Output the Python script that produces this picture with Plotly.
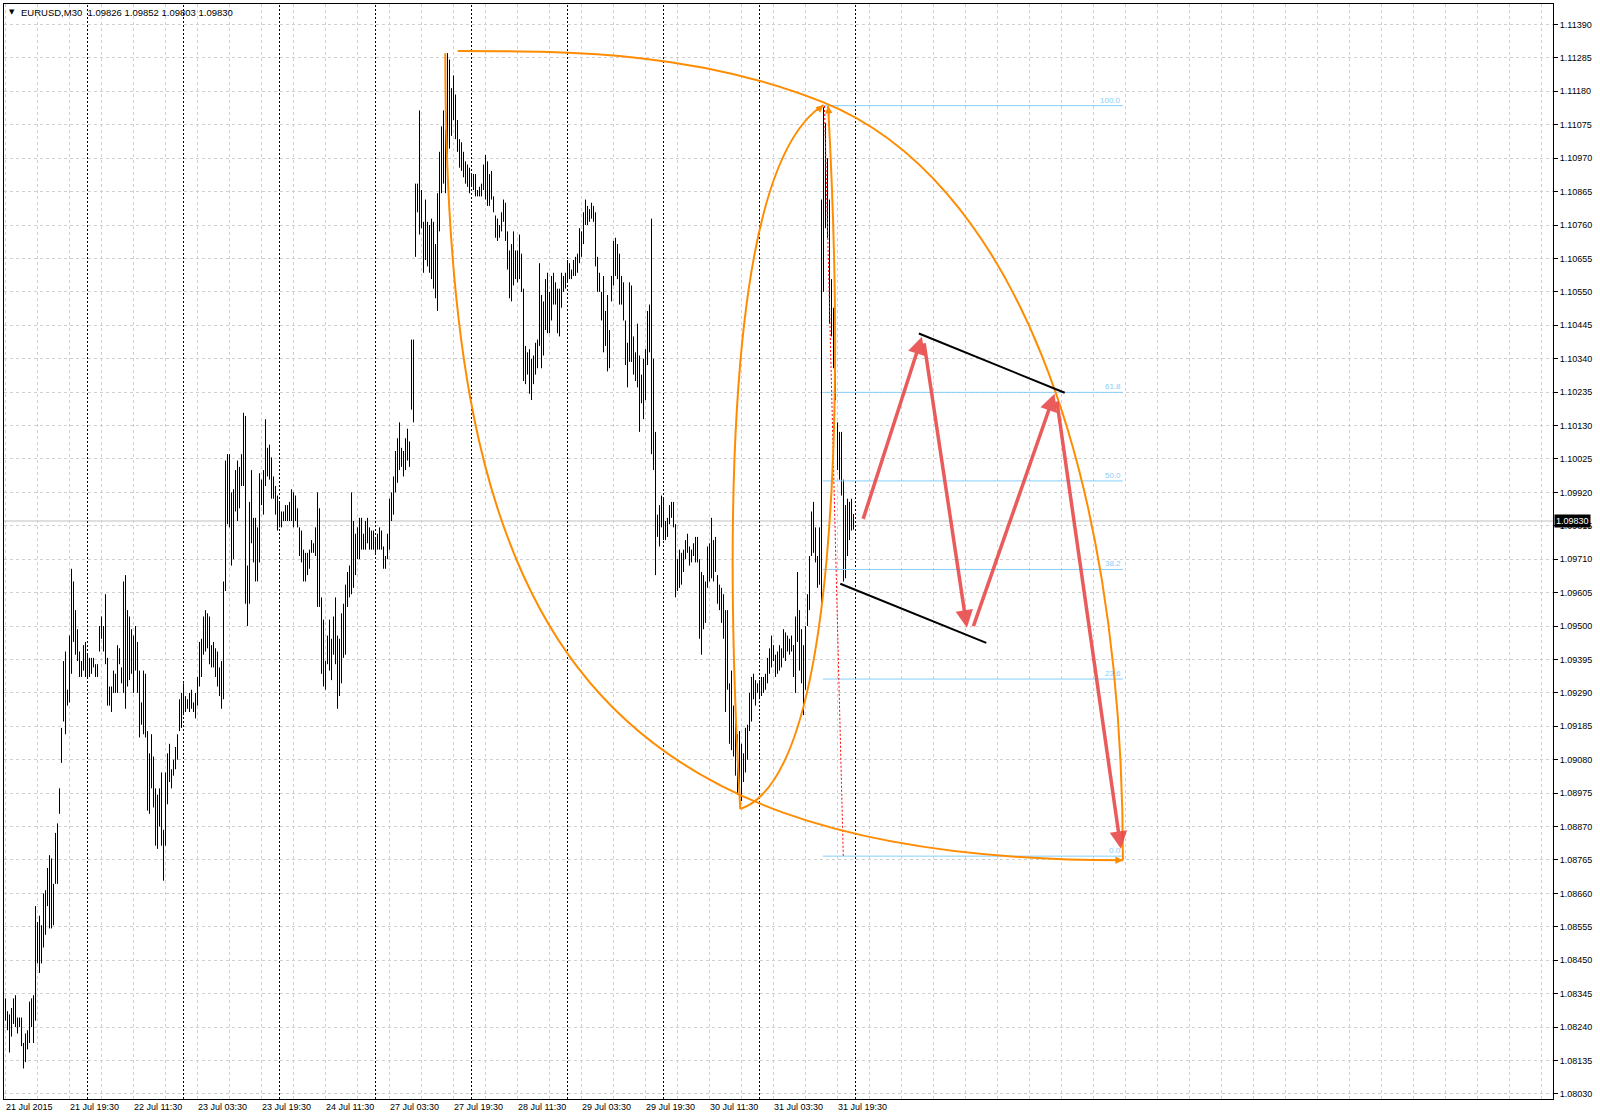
import plotly.graph_objects as go

# EURUSD M30 bars, 21 Jul 2015 03:30 .. 31 Jul 2015 23:30 (one entry per bar)
highs = [
    1.0833, 1.0829, 1.0828, 1.0830, 1.0833, 1.0834, 1.0827, 1.0827, 1.0827, 1.0819,
    1.0822, 1.0823, 1.0832, 1.0833, 1.0834, 1.0862, 1.0857, 1.0859, 1.0856, 1.0866,
    1.0867, 1.0874, 1.0878, 1.0877, 1.0869, 1.0885, 1.0888, 1.0899, 1.0918, 1.0939,
    1.0942, 1.0930, 1.0947, 1.0968, 1.0964, 1.0955, 1.0949, 1.0942, 1.0939, 1.0944,
    1.0945, 1.0941, 1.0940, 1.0940, 1.0940, 1.0938, 1.0938, 1.0950, 1.0953, 1.0950,
    1.0960, 1.0940, 1.0931, 1.0931,
    1.0936, 1.0935, 1.0944, 1.0943, 1.0937, 1.0964, 1.0966, 1.0955, 1.0953, 1.0949,
    1.0947, 1.0950, 1.0945, 1.0936, 1.0926, 1.0936, 1.0935, 1.0917, 1.0910, 1.0916,
    1.0909, 1.0899, 1.0897, 1.0899, 1.0904, 1.0886, 1.0904, 1.0910, 1.0913, 1.0905,
    1.0908, 1.0912, 1.0916, 1.0927, 1.0929, 1.0932, 1.0928, 1.0927, 1.0929, 1.0930,
    1.0926, 1.0929, 1.0934, 1.0945, 1.0946, 1.0953, 1.0955, 1.0954, 1.0953, 1.0944,
    1.0945, 1.0943, 1.0942,
    1.0937, 1.0939, 1.0964, 1.1002, 1.1004, 1.1004, 1.0992, 1.0993, 1.0999, 1.1002,
    1.1000, 1.1004, 1.1017, 1.1016, 1.0969, 1.0989, 1.0999, 1.0984, 1.0984, 1.0981,
    1.0998, 1.0996, 1.0999, 1.1015, 1.1006, 1.1007, 1.1003, 1.0997, 1.0994, 1.0991,
    1.0989, 1.0986, 1.0986, 1.0988, 1.0988, 1.0989, 1.0993, 1.0992, 1.0991, 1.0987,
    1.0981, 1.0980, 1.0974, 1.0973, 1.0973, 1.0974, 1.0977, 1.0976, 1.0981, 1.0992,
    1.0987, 1.0959, 1.0952,
    1.0939, 1.0947, 1.0952, 1.0946, 1.0953, 1.0959, 1.0947, 1.0946, 1.0954, 1.0957,
    1.0963, 1.0967, 1.0969, 1.0992, 1.0983, 1.0979, 1.0981, 1.0984, 1.0984, 1.0979,
    1.0983, 1.0984, 1.0981, 1.0980, 1.0980, 1.0978, 1.0979, 1.0981, 1.0980, 1.0975,
    1.0972, 1.0979, 1.0990, 1.0992, 1.0997, 1.1005, 1.1009, 1.1014, 1.1006, 1.1005,
    1.1009, 1.1012, 1.1008, 1.1040, 1.1040, 1.1089, 1.1089, 1.1112, 1.1087, 1.1077,
    1.1084, 1.1077, 1.1076,
    1.1078, 1.1077, 1.1070, 1.1086, 1.1099, 1.1107, 1.1112, 1.1106, 1.1130, 1.1128,
    1.1119, 1.1123, 1.1117, 1.1109, 1.1103, 1.1102, 1.1099, 1.1096, 1.1095, 1.1094,
    1.1092, 1.1092, 1.1092, 1.1087, 1.1088, 1.1089, 1.1095, 1.1098, 1.1096, 1.1092,
    1.1093, 1.1085, 1.1079, 1.1078, 1.1076, 1.1080, 1.1084, 1.1083, 1.1074, 1.1068,
    1.1070, 1.1074, 1.1068, 1.1068, 1.1073, 1.1067, 1.1056, 1.1038, 1.1036, 1.1037,
    1.1034, 1.1035, 1.1039,
    1.1040, 1.1064, 1.1054, 1.1052, 1.1059, 1.1061, 1.1055, 1.1060, 1.1061, 1.1058,
    1.1056, 1.1056, 1.1061, 1.1060, 1.1061, 1.1065, 1.1064, 1.1062, 1.1065, 1.1066,
    1.1067, 1.1075, 1.1074, 1.1080, 1.1084, 1.1082, 1.1081, 1.1083, 1.1082, 1.1080,
    1.1066, 1.1061, 1.1055, 1.1060, 1.1049, 1.1054, 1.1043, 1.1060, 1.1071, 1.1072,
    1.1070, 1.1067, 1.1060, 1.1058, 1.1046, 1.1039, 1.1058, 1.1057, 1.1041, 1.1036,
    1.1045, 1.1035, 1.1029,
    1.1034, 1.1037, 1.1049, 1.1051, 1.1078, 1.1034, 1.1011, 1.0985, 1.0988, 1.0991,
    1.0990, 1.0983, 1.0984, 1.0988, 1.0989, 1.0989, 1.0982, 1.0971, 1.0974, 1.0973,
    1.0974, 1.0977, 1.0979, 1.0975, 1.0974, 1.0976, 1.0978, 1.0978, 1.0971, 1.0967,
    1.0966, 1.0964, 1.0975, 1.0976, 1.0984, 1.0977, 1.0978, 1.0966, 1.0963, 1.0962,
    1.0960, 1.0955, 1.0955, 1.0932, 1.0936, 1.0925, 1.0929, 1.0916, 1.0917, 1.0913,
    1.0910, 1.0918, 1.0919,
    1.0929, 1.0934, 1.0935, 1.0933, 1.0932, 1.0933, 1.0934, 1.0934, 1.0935, 1.0940,
    1.0943, 1.0947, 1.0944, 1.0941, 1.0942, 1.0944, 1.0943, 1.0949, 1.0948, 1.0947,
    1.0946, 1.0947, 1.0944, 1.0953, 1.0967, 1.0955, 1.0949, 1.0944, 1.0950, 1.0960,
    1.0972, 1.0986, 1.0989, 1.0981, 1.0972, 1.0981, 1.1084, 1.1113, 1.1108, 1.1097,
    1.1084, 1.1059, 1.1050, 1.1038, 1.1014, 1.1011, 1.1011, 1.0996, 1.0988, 1.0990,
    1.0989, 1.0990, 1.09852,
]

lows = [
    1.0826, 1.0823, 1.0816, 1.0821, 1.0825, 1.0824, 1.0822, 1.0824, 1.0818, 1.0811,
    1.0813, 1.0817, 1.0819, 1.0824, 1.0819, 1.0826, 1.0844, 1.0841, 1.0844, 1.0849,
    1.0853, 1.0862, 1.0855, 1.0855, 1.0856, 1.0869, 1.0869, 1.0891, 1.0907, 1.0920,
    1.0916, 1.0925, 1.0926, 1.0935, 1.0945, 1.0941, 1.0939, 1.0934, 1.0934, 1.0936,
    1.0934, 1.0934, 1.0934, 1.0935, 1.0937, 1.0934, 1.0934, 1.0942, 1.0946, 1.0942,
    1.0938, 1.0925, 1.0925, 1.0923,
    1.0929, 1.0929, 1.0929, 1.0938, 1.0932, 1.0929, 1.0924, 1.0931, 1.0933, 1.0935,
    1.0929, 1.0936, 1.0929, 1.0915, 1.0919, 1.0916, 1.0915, 1.0892, 1.0891, 1.0899,
    1.0893, 1.0881, 1.0880, 1.0887, 1.0881, 1.0870, 1.0881, 1.0894, 1.0901, 1.0899,
    1.0903, 1.0905, 1.0908, 1.0917, 1.0918, 1.0922, 1.0923, 1.0924, 1.0923, 1.0924,
    1.0923, 1.0921, 1.0925, 1.0931, 1.0934, 1.0941, 1.0942, 1.0943, 1.0938, 1.0937,
    1.0937, 1.0934, 1.0931,
    1.0928, 1.0924, 1.0927, 1.0961, 1.0982, 1.0981, 1.0969, 1.0971, 1.0986, 1.0983,
    1.0987, 1.0994, 1.0994, 1.0957, 1.0950, 1.0957, 1.0976, 1.0970, 1.0964, 1.0964,
    1.0970, 1.0988, 1.0985, 1.0994, 1.0997, 1.0996, 1.0990, 1.0990, 1.0985, 1.0980,
    1.0981, 1.0981, 1.0983, 1.0983, 1.0983, 1.0983, 1.0983, 1.0981, 1.0983, 1.0981,
    1.0972, 1.0970, 1.0964, 1.0964, 1.0966, 1.0968, 1.0973, 1.0973, 1.0972, 1.0956,
    1.0956, 1.0935, 1.0931,
    1.0930, 1.0938, 1.0936, 1.0933, 1.0941, 1.0938, 1.0924, 1.0928, 1.0932, 1.0940,
    1.0941, 1.0956, 1.0959, 1.0960, 1.0962, 1.0966, 1.0971, 1.0971, 1.0974, 1.0974,
    1.0974, 1.0976, 1.0974, 1.0974, 1.0974, 1.0973, 1.0974, 1.0974, 1.0974, 1.0968,
    1.0968, 1.0971, 1.0974, 1.0983, 1.0985, 1.0992, 1.0995, 1.0999, 1.1000, 1.0997,
    1.0999, 1.1002, 1.1000, 1.1018, 1.1014, 1.1066, 1.1080, 1.1073, 1.1075, 1.1061,
    1.1065, 1.1063, 1.1061,
    1.1059, 1.1056, 1.1053, 1.1049, 1.1074, 1.1086, 1.1089, 1.1086, 1.1091, 1.1100,
    1.1104, 1.1109, 1.1103, 1.1099, 1.1094, 1.1093, 1.1091, 1.1089, 1.1088, 1.1086,
    1.1088, 1.1087, 1.1085, 1.1085, 1.1085, 1.1085, 1.1087, 1.1084, 1.1082, 1.1082,
    1.1084, 1.1080, 1.1072, 1.1071, 1.1072, 1.1074, 1.1077, 1.1071, 1.1062, 1.1053,
    1.1052, 1.1057, 1.1059, 1.1058, 1.1059, 1.1055, 1.1027, 1.1026, 1.1029, 1.1023,
    1.1021, 1.1026, 1.1029,
    1.1031, 1.1038, 1.1031, 1.1035, 1.1043, 1.1042, 1.1042, 1.1046, 1.1051, 1.1051,
    1.1042, 1.1041, 1.1050, 1.1055, 1.1056, 1.1058, 1.1059, 1.1059, 1.1060, 1.1060,
    1.1061, 1.1064, 1.1066, 1.1070, 1.1076, 1.1076, 1.1077, 1.1078, 1.1077, 1.1063,
    1.1055, 1.1055, 1.1046, 1.1036, 1.1038, 1.1030, 1.1031, 1.1052, 1.1057, 1.1060,
    1.1059, 1.1051, 1.1051, 1.1046, 1.1032, 1.1025, 1.1033, 1.1033, 1.1029, 1.1027,
    1.1025, 1.1011, 1.1020,
    1.1015, 1.1021, 1.1032, 1.1036, 1.1004, 1.0999, 1.0966, 1.0978, 1.0975, 1.0981,
    1.0977, 1.0977, 1.0978, 1.0982, 1.0984, 1.0981, 1.0959, 1.0961, 1.0962, 1.0963,
    1.0967, 1.0971, 1.0973, 1.0969, 1.0970, 1.0972, 1.0970, 1.0970, 1.0946, 1.0941,
    1.0949, 1.0951, 1.0962, 1.0964, 1.0965, 1.0964, 1.0967, 1.0957, 1.0955, 1.0951,
    1.0946, 1.0923, 1.0930, 1.0913, 1.0911, 1.0909, 1.0903, 1.0897, 1.0899, 1.0895,
    1.0901, 1.0904, 1.0908,
    1.0917, 1.0920, 1.0927, 1.0925, 1.0929, 1.0927, 1.0928, 1.0929, 1.0930, 1.0932,
    1.0935, 1.0937, 1.0939, 1.0934, 1.0935, 1.0936, 1.0937, 1.0940, 1.0939, 1.0942,
    1.0941, 1.0942, 1.0934, 1.0929, 1.0945, 1.0936, 1.0932, 1.0922, 1.0930, 1.0950,
    1.0955, 1.0972, 1.0973, 1.0970, 1.0962, 1.0963, 1.0955, 1.1055, 1.1075, 1.1072,
    1.1045, 1.1041, 1.1031, 1.1021, 1.0999, 1.0996, 1.0991, 1.0964, 1.0965, 1.0972,
    1.0977, 1.0980, 1.09803,
]

last_ohlc = ["1.09826", "1.09852", "1.09803", "1.09830"]
bid_price = 1.09830

# time axis (bar numbers)
date_label_bars = [0, 32, 64, 96, 128, 160, 192, 224, 256, 288, 320, 352, 384, 416]
date_labels = ["21 Jul 2015", "21 Jul 19:30", "22 Jul 11:30", "23 Jul 03:30",
               "23 Jul 19:30", "24 Jul 11:30", "27 Jul 03:30", "27 Jul 19:30",
               "28 Jul 11:30", "29 Jul 03:30", "29 Jul 19:30", "30 Jul 11:30",
               "31 Jul 03:30", "31 Jul 19:30"]
day_separator_bars = [41, 89, 137, 185, 233, 281, 329, 377, 425]
grid_bars = list(range(0, 775, 16))

price_ticks = [1.08030, 1.08135, 1.08240, 1.08345, 1.08450, 1.08555, 1.08660,
               1.08765, 1.08870, 1.08975, 1.09080, 1.09185, 1.09290, 1.09395,
               1.09500, 1.09605, 1.09710, 1.09815, 1.09920, 1.10025, 1.10130,
               1.10235, 1.10340, 1.10445, 1.10550, 1.10655, 1.10760, 1.10865,
               1.10970, 1.11075, 1.11180, 1.11285, 1.11390]

# Fibonacci retracement
fib_high = 1.11135
fib_low = 1.08777
fib_levels = [100.0, 61.8, 50.0, 38.2, 23.6, 0.0]
fib_span = [408.7, 558.7]
fib_trend = [(409.5, 1.11134), (418.9, 1.08774)]

# orange curves: cubic bezier control points (bar, price)
# big upper arc = two joined segments
outer_upper_arc = [(226.1, 1.11307), (287.3, 1.11307), (347.5, 1.11300), (408.7, 1.11146),
                   (500.6, 1.10916), (558.7, 1.10047), (558.7, 1.08764)]
outer_lower_arc = [(219.9, 1.11300), (219.9, 1.09537), (283.2, 1.08764), (558.7, 1.08764)]
inner_left_arc = [(409.0, 1.11137), (354.6, 1.10922), (361.8, 1.09543), (367.4, 1.08925)]
inner_right_arc = [(411.3, 1.11134), (419.5, 1.10185), (415.9, 1.09030), (367.4, 1.08925)]

# red wave arrows (tail, head) and black channel lines
wave_arrows = [((428.6, 1.09832), (458.2, 1.10409)),
               ((459.2, 1.10393), (480.7, 1.09495)),
               ((483.7, 1.09495), (524.5, 1.10230)),
               ((525.6, 1.10210), (557.7, 1.08800))]
channel_lines = [((456.7, 1.10419), (529.6, 1.10233)),
                 ((417.4, 1.09633), (490.4, 1.09447))]

ORANGE = "#ff8c00"
FIB_BLUE = "#87cefa"
FONT = "Liberation Sans"

fig = go.Figure()

# bars as high-low sticks
bx, by = [], []
for i, (h, l) in enumerate(zip(highs, lows)):
    bx += [i, i, None]
    by += [l, h, None]
fig.add_trace(go.Scatter(x=bx, y=by, mode="lines", line=dict(color="black", width=1),
                         hoverinfo="skip", showlegend=False))

shapes = []

# bid line
shapes.append(dict(type="line", xref="paper", x0=0, x1=1, yref="y", y0=bid_price, y1=bid_price,
                   line=dict(color="#c0c0c0", width=1), layer="below"))

# day separators
for b in day_separator_bars:
    shapes.append(dict(type="line", xref="x", x0=b, x1=b, yref="paper", y0=0, y1=1,
                       line=dict(color="black", width=1, dash="2px,2px")))

# fibonacci levels
for lvl in fib_levels:
    p = fib_low + (fib_high - fib_low) * lvl / 100
    shapes.append(dict(type="line", xref="x", yref="y", x0=fib_span[0], x1=fib_span[1], y0=p, y1=p,
                       line=dict(color=FIB_BLUE, width=1)))
shapes.append(dict(type="line", xref="x", yref="y",
                   x0=fib_trend[0][0], y0=fib_trend[0][1], x1=fib_trend[1][0], y1=fib_trend[1][1],
                   line=dict(color="red", width=1, dash="2px,2px")))


def bezier_path(pts):
    path = f"M {pts[0][0]},{pts[0][1]}"
    for k in range(1, len(pts), 3):
        (x1, y1), (x2, y2), (x3, y3) = pts[k:k + 3]
        path += f" C {x1},{y1} {x2},{y2} {x3},{y3}"
    return path


for arc in [outer_upper_arc, outer_lower_arc, inner_left_arc, inner_right_arc]:
    shapes.append(dict(type="path", xref="x", yref="y", path=bezier_path(arc),
                       line=dict(color=ORANGE, width=2)))

for (x0, y0), (x1, y1) in channel_lines:
    shapes.append(dict(type="line", xref="x", yref="y", x0=x0, y0=y0, x1=x1, y1=y1,
                       line=dict(color="black", width=2)))

annotations = []

for (tx, ty), (hx, hy) in wave_arrows:
    annotations.append(dict(x=hx, y=hy, ax=tx, ay=ty, xref="x", yref="y", axref="x", ayref="y",
                            text="", showarrow=True, arrowhead=2, arrowsize=1, arrowwidth=3.5,
                            arrowcolor="rgba(232,70,70,0.88)"))

# small orange arrowheads at the curve ends
annotations.append(dict(x=inner_left_arc[0][0], y=inner_left_arc[0][1], xref="x", yref="y",
                        ax=-8, ay=7, text="", showarrow=True, arrowhead=2, arrowsize=1,
                        arrowwidth=1.5, arrowcolor=ORANGE))
annotations.append(dict(x=inner_right_arc[0][0], y=inner_right_arc[0][1], xref="x", yref="y",
                        ax=1, ay=11, text="", showarrow=True, arrowhead=2, arrowsize=1,
                        arrowwidth=1.5, arrowcolor=ORANGE))
annotations.append(dict(x=outer_upper_arc[-1][0], y=outer_upper_arc[-1][1], xref="x", yref="y",
                        ax=-12, ay=0, text="", showarrow=True, arrowhead=2, arrowsize=1,
                        arrowwidth=1.5, arrowcolor=ORANGE))

# fibonacci level labels
for lvl in fib_levels:
    p = fib_low + (fib_high - fib_low) * lvl / 100
    annotations.append(dict(x=fib_span[1], y=p, xref="x", yref="y", text=f"{lvl:.1f}",
                            showarrow=False, xanchor="right", yanchor="bottom", yshift=-1,
                            font=dict(family=FONT, size=8, color=FIB_BLUE)))

# date labels under the chart
for b, t in zip(date_label_bars, date_labels):
    annotations.append(dict(x=b, y=0, xref="x", yref="paper", text=t, showarrow=False,
                            xanchor="left", yanchor="top", xshift=-2, yshift=-1,
                            font=dict(family=FONT, size=9, color="black")))

# header
annotations.append(dict(x=0, y=1, xref="paper", yref="paper", text="▼", showarrow=False,
                        xanchor="left", yanchor="top", xshift=3, yshift=-2,
                        font=dict(family="DejaVu Sans", size=7, color="black")))
annotations.append(dict(x=0, y=1, xref="paper", yref="paper",
                        text="EURUSD,M30  " + " ".join(last_ohlc), showarrow=False,
                        xanchor="left", yanchor="top", xshift=15, yshift=-1,
                        font=dict(family=FONT, size=9.5, color="black")))

# current price box on the axis
annotations.append(dict(x=1, y=bid_price, xref="paper", yref="y", text=last_ohlc[3],
                        showarrow=False, xanchor="left", yanchor="middle", xshift=1,
                        bgcolor="black", borderpad=1,
                        font=dict(family=FONT, size=9, color="white")))

fig.update_layout(
    width=1600, height=1118,
    margin=dict(l=4, r=47, t=4, b=19, pad=0),
    paper_bgcolor="white", plot_bgcolor="white",
    showlegend=False,
    shapes=shapes, annotations=annotations,
    font=dict(family=FONT, size=9, color="black"),
    xaxis=dict(range=[-0.75, 773.75], tickmode="array", tickvals=grid_bars,
               showticklabels=False, ticks="", showgrid=True, gridcolor="#d0d0d0",
               griddash="3px,3px", gridwidth=1, zeroline=False,
               showline=True, mirror=True, linecolor="black", linewidth=1, fixedrange=True),
    yaxis=dict(range=[1.08014, 1.114544], side="right", tickmode="array", tickvals=price_ticks,
               tickformat=".5f", ticks="outside", ticklen=4, tickcolor="black",
               tickfont=dict(family=FONT, size=9, color="black"),
               showgrid=True, gridcolor="#d0d0d0", griddash="3px,3px", gridwidth=1,
               zeroline=False, showline=True, mirror=True, linecolor="black", linewidth=1,
               fixedrange=True),
)

fig.write_html("out.html", config={"displayModeBar": False},
               post_script="document.body.style.margin='0px';")
